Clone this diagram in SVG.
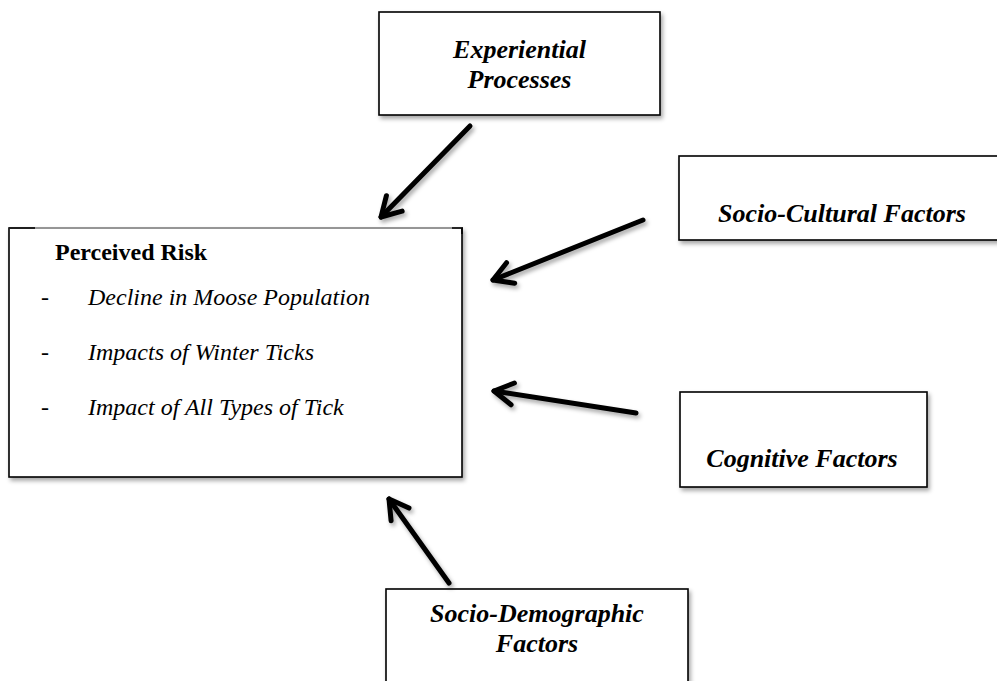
<svg xmlns="http://www.w3.org/2000/svg" width="997" height="681" viewBox="0 0 997 681">
  <style>
    .box { fill: #ffffff; stroke: #000000; stroke-width: 1.6; }
    .lbl { font-family: "Liberation Serif", "Times New Roman", serif; font-size: 26px; font-weight: bold; font-style: italic; fill: #000000; text-anchor: middle; }
    .title { font-family: "Liberation Serif", "Times New Roman", serif; font-size: 24px; font-weight: bold; fill: #000000; }
    .item { font-family: "Liberation Serif", "Times New Roman", serif; font-size: 24px; font-style: italic; fill: #000000; }
    .dash { font-family: "Liberation Serif", "Times New Roman", serif; font-size: 24px; fill: #000000; }
    .conn { fill: none; stroke: #000000; stroke-width: 5; stroke-linecap: round; }
  </style>
  <defs>
    <filter id="sh" x="-10%" y="-10%" width="130%" height="140%">
      <feDropShadow dx="2" dy="3" stdDeviation="2" flood-color="#000000" flood-opacity="0.35"/>
    </filter>
    <marker id="ah" viewBox="-24 -16 30 32" refX="0" refY="0" markerWidth="30" markerHeight="32" markerUnits="userSpaceOnUse" orient="auto" overflow="visible">
      <path d="M-19,-11 L0,0 L-19,11" fill="none" stroke="#000000" stroke-width="5" stroke-linecap="round" stroke-linejoin="round"/>
    </marker>
  </defs>
  <rect width="997" height="681" fill="#ffffff"/>

  <g id="perceived-risk">
    <rect x="9" y="228" width="453" height="249" class="box" filter="url(#sh)"/>
    <line x1="9" y1="228" x2="462" y2="228" stroke="#ffffff" stroke-width="1.6"/>
    <line x1="9" y1="228" x2="462" y2="228" stroke="#555555" stroke-width="0.9"/>
    <line x1="9" y1="228" x2="35" y2="228" stroke="#000000" stroke-width="1.6"/>
    <polyline points="452,228 462,228 462,234" fill="none" stroke="#000000" stroke-width="1.6"/>
    <text x="55" y="260" class="title">Perceived Risk</text>
    <text x="41" y="305" class="dash">-</text>
    <text x="88" y="305" class="item">Decline in Moose Population</text>
    <text x="41" y="360" class="dash">-</text>
    <text x="88" y="360" class="item">Impacts of Winter Ticks</text>
    <text x="41" y="415" class="dash">-</text>
    <text x="88" y="415" class="item">Impact of All Types of Tick</text>
  </g>

  <g id="experiential-processes">
    <rect x="379" y="12" width="281" height="103" class="box" filter="url(#sh)"/>
    <text x="519.5" y="58" class="lbl">Experiential</text>
    <text x="519.5" y="88" class="lbl">Processes</text>
  </g>

  <g id="socio-cultural-factors">
    <rect x="679" y="156" width="326" height="84" class="box" filter="url(#sh)"/>
    <text x="842" y="222" class="lbl">Socio-Cultural Factors</text>
  </g>

  <g id="cognitive-factors">
    <rect x="680" y="392" width="247" height="95" class="box" filter="url(#sh)"/>
    <text x="802" y="467" class="lbl">Cognitive Factors</text>
  </g>

  <g id="socio-demographic-factors">
    <rect x="386" y="589" width="302" height="110" class="box" filter="url(#sh)"/>
    <text x="537" y="622" class="lbl">Socio-Demographic</text>
    <text x="537" y="652" class="lbl">Factors</text>
  </g>

  <g id="connectors" filter="url(#sh)">
    <line class="conn" x1="470" y1="126" x2="381" y2="217" marker-end="url(#ah)"/>
    <line class="conn" x1="643" y1="220" x2="493" y2="280" marker-end="url(#ah)"/>
    <line class="conn" x1="636" y1="413" x2="494" y2="391" marker-end="url(#ah)"/>
    <line class="conn" x1="449" y1="583" x2="389" y2="499" marker-end="url(#ah)"/>
  </g>
</svg>
